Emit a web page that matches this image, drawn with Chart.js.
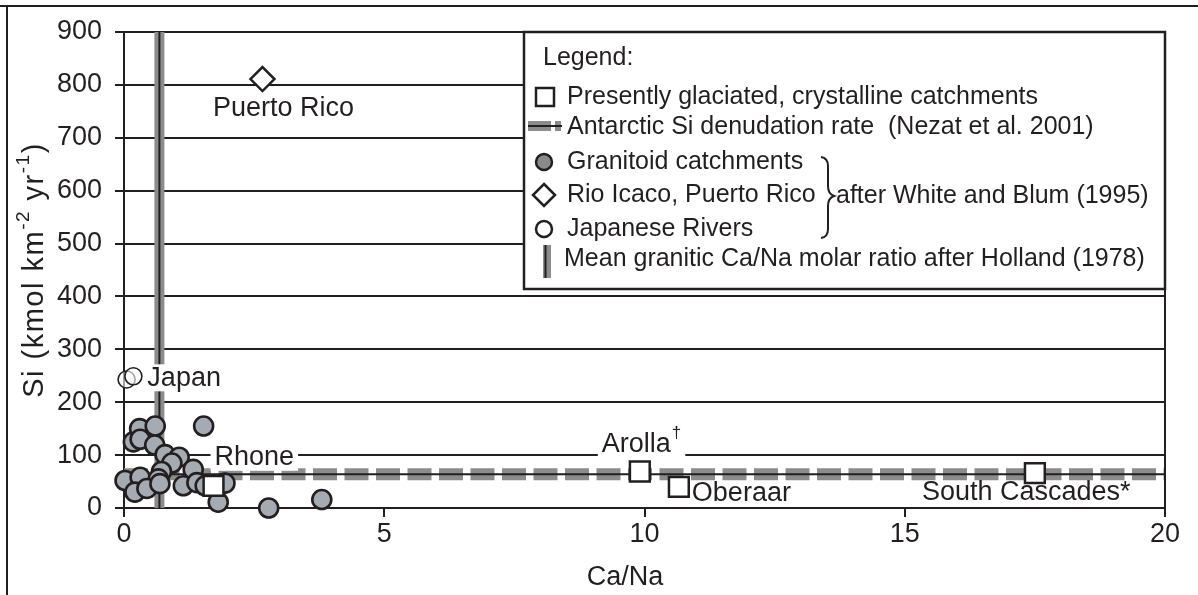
<!DOCTYPE html>
<html>
<head>
<meta charset="utf-8">
<script src="https://cdn.jsdelivr.net/npm/chart.js@4.4.1/dist/chart.umd.min.js"></script>
<style>
  html, body { margin: 0; padding: 0; background: #fff; }
  #wrap { width: 1198px; height: 595px; position: relative; }
</style>
</head>
<body>
<div id="wrap"><canvas id="c" width="1198" height="595"></canvas></div>
<script>
// Granitoid catchments (White and Blum 1995)
const granitoidCaNa = [0.02, 0.18, 0.30, 0.31, 0.60, 0.59, 1.53, 0.79, 1.06, 0.92, 0.72, 1.33,
                       0.31, 0.66, 0.21, 0.44, 0.69, 1.14, 1.40, 1.56, 1.94, 1.81, 2.78, 3.80];
const granitoidSi   = [52, 125, 150, 130, 155, 119, 155, 101, 96, 85, 69, 73,
                       58, 55, 30, 37, 46, 42, 48, 42, 47, 11, 0, 16];

// Rio Icaco, Puerto Rico
const puertoCaNa = [2.66];
const puertoSi   = [811];

// Japanese rivers
const japanCaNa = [0.05, 0.18];
const japanSi   = [243, 249];

// Presently glaciated, crystalline catchments
const glaciatedNames = ['Rhone', 'Arolla', 'Oberaar', 'South Cascades'];
const glaciatedCaNa  = [1.72, 9.91, 10.66, 17.50];
const glaciatedSi    = [42, 69, 40, 66];

// Reference lines
const antarcticSi = 64;      // Antarctic Si denudation rate (Nezat et al. 2001)
const hollandCaNa = 0.68;    // mean granitic Ca/Na molar ratio (Holland 1978)

// Axis ticks
const xTicks = [0, 5, 10, 15, 20];
const yTicks = [0, 100, 200, 300, 400, 500, 600, 700, 800, 900];

const INK = '#231f20';
const FONT = '"Liberation Sans", Arial, sans-serif';
const pts = (xs, ys) => xs.map((x, i) => ({ x, y: ys[i] }));

// Labels placed next to their marks
const markLabels = [
  { ds: 1, i: 0, text: 'Puerto Rico', dx: 21, dy: 29, align: 'center', bg: false },
  { ds: 2, i: 1, text: 'Japan', dx: 14, dy: 2, align: 'left', bg: true },
  { ds: 0, i: 0, text: glaciatedNames[0], dx: 1, dy: -28, align: 'left', bg: true },
  { ds: 0, i: 1, text: glaciatedNames[1], sup: '\u2020', dx: -38, dy: -27, align: 'left', bg: true },
  { ds: 0, i: 2, text: glaciatedNames[2], dx: 13, dy: 7, align: 'left', bg: false },
  { ds: 0, i: 3, text: glaciatedNames[3] + '*', dx: -113, dy: 19, align: 'left', bg: false }
];

const LBL = '27px ' + FONT;
const SUP = '17px ' + FONT;
const YT = '29px ' + FONT;
const YTS = '19px ' + FONT;

const decorations = {
  id: 'decorations',
  afterDatasetsDraw(chart) {
    const { ctx, chartArea: a } = chart;
    ctx.save();
    // plot-area right edge
    ctx.strokeStyle = INK; ctx.lineWidth = 2;
    ctx.beginPath(); ctx.moveTo(a.right, a.top); ctx.lineTo(a.right, a.bottom); ctx.stroke();

    ctx.font = LBL;
    ctx.textBaseline = 'middle';
    markLabels.forEach(l => {
      const p = chart.getDatasetMeta(l.ds).data[l.i];
      const tx = p.x + l.dx, ty = p.y + l.dy;
      const w = ctx.measureText(l.text).width;
      let supW = 0;
      if (l.sup) { ctx.font = SUP; supW = ctx.measureText(l.sup).width + 1; ctx.font = LBL; }
      const total = w + supW;
      const left = l.align === 'center' ? tx - total / 2 : tx;
      if (l.bg) {
        ctx.fillStyle = '#fff';
        ctx.fillRect(left - 4, ty - 14, total + 8, 27);
      }
      ctx.fillStyle = INK;
      ctx.textAlign = 'left';
      ctx.fillText(l.text, left, ty);
      if (l.sup) {
        ctx.font = SUP;
        ctx.fillText(l.sup, left + w + 1, ty - 11);
        ctx.font = LBL;
      }
    });
    ctx.restore();
  },
  afterDraw(chart) {
    const { ctx, chartArea: a } = chart;
    ctx.save();
    // outer frame (top and left)
    ctx.strokeStyle = INK; ctx.lineWidth = 2;
    ctx.beginPath(); ctx.moveTo(0, 6); ctx.lineTo(1198, 6); ctx.moveTo(7, 6); ctx.lineTo(7, 595); ctx.stroke();

    // axis titles
    ctx.fillStyle = INK;
    ctx.textBaseline = 'middle';
    ctx.font = LBL;
    ctx.textAlign = 'center';
    ctx.fillText('Ca/Na', 625, 578);

    // y title with superscripts, slightly tracked
    const parts = [['Si (kmol km', false], ['-2', true], [' yr', false], ['-1', true], [')', false]];
    ctx.letterSpacing = '1.5px';
    let total = 0;
    parts.forEach(([t, s]) => { ctx.font = s ? YTS : YT; total += ctx.measureText(t).width; });
    ctx.translate(35, (a.top + a.bottom) / 2);
    ctx.rotate(-Math.PI / 2);
    ctx.textAlign = 'left';
    let cx = -total / 2;
    parts.forEach(([t, s]) => {
      ctx.font = s ? YTS : YT;
      ctx.fillText(t, cx, s ? -11 : 0);
      cx += ctx.measureText(t).width;
    });
    ctx.setTransform(1, 0, 0, 1, 0, 0);
    ctx.letterSpacing = '0px';

    // legend box
    const L = 524, T = 32, R = a.right, B = 289;
    ctx.fillStyle = '#fff';
    ctx.fillRect(L, T, R - L, B - T);
    ctx.strokeStyle = INK; ctx.lineWidth = 2.5;
    ctx.strokeRect(L, T, R - L, B - T);

    ctx.font = '25px ' + FONT;
    ctx.fillStyle = INK;
    ctx.textAlign = 'left';
    ctx.textBaseline = 'middle';
    ctx.fillText('Legend:', 543, 58);

    // glaciated square
    ctx.fillStyle = '#fff'; ctx.lineWidth = 2.5; ctx.strokeStyle = INK;
    ctx.fillRect(536, 88, 18, 18); ctx.strokeRect(536, 88, 18, 18);
    ctx.fillStyle = INK;
    ctx.fillText('Presently glaciated, crystalline catchments', 567, 97);

    // Antarctic line symbol
    ctx.strokeStyle = '#8c8c8c'; ctx.lineWidth = 10;
    ctx.beginPath(); ctx.moveTo(528, 126); ctx.lineTo(551, 126); ctx.moveTo(555, 126); ctx.lineTo(561, 126); ctx.stroke();
    ctx.strokeStyle = INK; ctx.lineWidth = 2;
    ctx.beginPath(); ctx.moveTo(528, 126); ctx.lineTo(562, 126); ctx.stroke();
    ctx.fillText('Antarctic Si denudation rate  (Nezat et al. 2001)', 567, 127);

    // granitoid circle
    ctx.beginPath(); ctx.arc(544, 162, 8, 0, Math.PI * 2);
    ctx.fillStyle = '#8a8a8a'; ctx.fill(); ctx.lineWidth = 2.5; ctx.strokeStyle = INK; ctx.stroke();
    ctx.fillStyle = INK;
    ctx.fillText('Granitoid catchments', 567, 162);

    // diamond
    ctx.beginPath(); ctx.moveTo(544, 184); ctx.lineTo(555, 195); ctx.lineTo(544, 206); ctx.lineTo(533, 195); ctx.closePath();
    ctx.fillStyle = '#fff'; ctx.fill(); ctx.stroke();
    ctx.fillStyle = INK;
    ctx.fillText('Rio Icaco, Puerto Rico', 567, 195);

    // open circle
    ctx.beginPath(); ctx.arc(544, 229, 8, 0, Math.PI * 2);
    ctx.fillStyle = '#fff'; ctx.fill(); ctx.stroke();
    ctx.fillStyle = INK;
    ctx.fillText('Japanese Rivers', 567, 229);

    // mean ratio symbol
    ctx.fillStyle = '#8c8c8c'; ctx.fillRect(543, 245, 8, 33);
    ctx.strokeStyle = INK; ctx.lineWidth = 2;
    ctx.beginPath(); ctx.moveTo(545.5, 245); ctx.lineTo(545.5, 278); ctx.stroke();
    ctx.fillStyle = INK;
    ctx.fillText('Mean granitic Ca/Na molar ratio after Holland (1978)', 564, 259);

    // brace grouping the White and Blum entries
    ctx.strokeStyle = INK; ctx.lineWidth = 2;
    ctx.beginPath();
    ctx.moveTo(821, 157);
    ctx.quadraticCurveTo(828, 158, 828, 166);
    ctx.lineTo(828, 186);
    ctx.quadraticCurveTo(828, 194, 834, 196);
    ctx.quadraticCurveTo(828, 198, 828, 206);
    ctx.lineTo(828, 229);
    ctx.quadraticCurveTo(828, 237, 821, 238);
    ctx.stroke();
    ctx.fillText('after White and Blum (1995)', 836, 196);
    ctx.restore();
  }
};

new Chart(document.getElementById('c'), {
  type: 'scatter',
  data: {
    datasets: [
      { label: 'Presently glaciated, crystalline catchments', data: pts(glaciatedCaNa, glaciatedSi),
        pointStyle: 'rect', pointRadius: 14, backgroundColor: '#fff', borderColor: INK, borderWidth: 2.5, order: 1, clip: false },
      { label: 'Rio Icaco, Puerto Rico', data: pts(puertoCaNa, puertoSi),
        pointStyle: 'rectRot', pointRadius: 12, backgroundColor: '#fff', borderColor: INK, borderWidth: 2.5, order: 2, clip: false },
      { label: 'Japanese Rivers', data: pts(japanCaNa, japanSi),
        pointStyle: 'circle', pointRadius: 8.5, backgroundColor: 'rgba(255,255,255,0.6)', borderColor: INK, borderWidth: 1.6, order: 2, clip: false },
      { label: 'Granitoid catchments', data: pts(granitoidCaNa, granitoidSi),
        pointStyle: 'circle', pointRadius: 9.5, backgroundColor: '#a4abb2', borderColor: INK, borderWidth: 2.6, order: 3, clip: false },
      { label: 'Antarctic Si denudation rate', data: pts([xTicks[0], xTicks[xTicks.length - 1]], [antarcticSi, antarcticSi]),
        showLine: true, borderColor: '#8c8c8c', borderWidth: 12, borderDash: [24, 7.5], borderCapStyle: 'butt', pointRadius: 0, order: 8 },
      { label: 'Antarctic Si denudation rate (line)', data: pts([xTicks[0], xTicks[xTicks.length - 1]], [antarcticSi, antarcticSi]),
        showLine: true, borderColor: INK, borderWidth: 2, pointRadius: 0, order: 7 },
      { label: 'Mean granitic Ca/Na', data: pts([hollandCaNa, hollandCaNa], [yTicks[0], yTicks[yTicks.length - 1]]),
        showLine: true, borderColor: '#8c8c8c', borderWidth: 10, borderCapStyle: 'butt', pointRadius: 0, order: 10 },
      { label: 'Mean granitic Ca/Na (line)', data: pts([hollandCaNa, hollandCaNa], [yTicks[0], yTicks[yTicks.length - 1]]),
        showLine: true, borderColor: INK, borderWidth: 2, pointRadius: 0, order: 9 }
    ]
  },
  options: {
    responsive: false,
    animation: false,
    devicePixelRatio: 1,
    events: [],
    layout: { padding: { left: 0, top: 32, right: 33, bottom: 0 } },
    plugins: { legend: { display: false }, tooltip: { enabled: false } },
    scales: {
      x: {
        type: 'linear', min: xTicks[0], max: xTicks[xTicks.length - 1],
        afterFit: s => { s.height = 87; },
        afterBuildTicks: s => { s.ticks = xTicks.map(v => ({ value: v })); },
        grid: { drawOnChartArea: false, drawTicks: true, tickLength: 9, color: INK, lineWidth: 2 },
        border: { display: true, color: INK, width: 2 },
        ticks: { color: INK, font: { family: FONT, size: 27 }, padding: 1, maxRotation: 0 }
      },
      y: {
        type: 'linear', min: yTicks[0], max: yTicks[yTicks.length - 1],
        afterFit: s => { s.width = 124; },
        afterBuildTicks: s => { s.ticks = yTicks.map(v => ({ value: v })); },
        grid: { drawOnChartArea: true, drawTicks: true, tickLength: 9, color: INK, lineWidth: 2 },
        border: { display: true, color: INK, width: 2 },
        ticks: { color: INK, font: { family: FONT, size: 27 }, padding: 13 }
      }
    }
  },
  plugins: [decorations]
});
</script>
</body>
</html>
